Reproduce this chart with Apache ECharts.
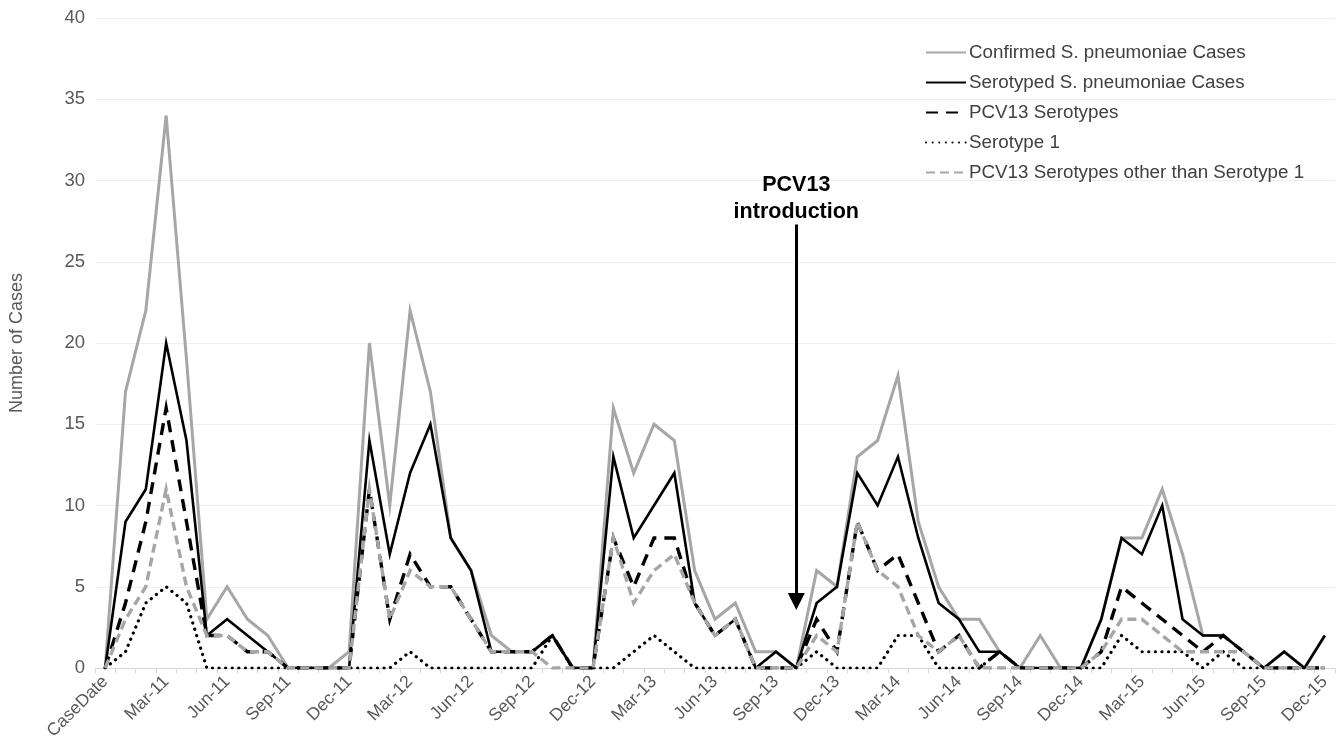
<!DOCTYPE html>
<html>
<head>
<meta charset="utf-8">
<title>S. pneumoniae cases by month</title>
<script src="https://cdn.jsdelivr.net/npm/echarts@6/dist/echarts.min.js"></script>
<style>
  html, body { margin: 0; padding: 0; background: #fff; }
  #chart { width: 1339px; height: 748px; }
</style>
</head>
<body>
<div id="chart"></div>
<script>
// Month labels: a leading "CaseDate" header row, then Jan-11 .. Dec-15
const months = ['Jan', 'Feb', 'Mar', 'Apr', 'May', 'Jun', 'Jul', 'Aug', 'Sep', 'Oct', 'Nov', 'Dec'];
const years = ['11', '12', '13', '14', '15'];
const categories = ['CaseDate'].concat(
  years.flatMap(y => months.map(m => m + '-' + y))
);

// Monthly case counts
const confirmed = [0,
  17, 22, 34, 19, 3, 5, 3, 2, 0, 0, 0, 1,
  20, 10, 22, 17, 8, 6, 2, 1, 1, 2, 0, 0,
  16, 12, 15, 14, 6, 3, 4, 1, 1, 0, 6, 5,
  13, 14, 18, 9, 5, 3, 3, 1, 0, 2, 0, 0,
  3, 8, 8, 11, 7, 2, 2, 1, 0, 1, 0, 2];

const serotyped = [0,
  9, 11, 20, 14, 2, 3, 2, 1, 0, 0, 0, 0,
  14, 7, 12, 15, 8, 6, 1, 1, 1, 2, 0, 0,
  13, 8, 10, 12, 4, 2, 3, 0, 1, 0, 4, 5,
  12, 10, 13, 8, 4, 3, 1, 1, 0, 0, 0, 0,
  3, 8, 7, 10, 3, 2, 2, 1, 0, 1, 0, 2];

const pcv13 = [0,
  4, 9, 16, 9, 2, 2, 1, 1, 0, 0, 0, 0,
  11, 3, 7, 5, 5, 3, 1, 1, 1, 2, 0, 0,
  8, 5, 8, 8, 4, 2, 3, 0, 0, 0, 3, 1,
  9, 6, 7, 4, 1, 2, 0, 1, 0, 0, 0, 0,
  1, 5, 4, 3, 2, 1, 2, 1, 0, 0, 0, 0];

const serotype1 = [0,
  1, 4, 5, 4, 0, 0, 0, 0, 0, 0, 0, 0,
  0, 0, 1, 0, 0, 0, 0, 0, 0, 2, 0, 0,
  0, 1, 2, 1, 0, 0, 0, 0, 0, 0, 1, 0,
  0, 0, 2, 2, 0, 0, 0, 1, 0, 0, 0, 0,
  0, 2, 1, 1, 1, 0, 1, 0, 0, 0, 0, 0];

const pcv13Other = [0,
  3, 5, 11, 5, 2, 2, 1, 1, 0, 0, 0, 0,
  11, 3, 6, 5, 5, 3, 1, 1, 1, 0, 0, 0,
  8, 4, 6, 7, 4, 2, 3, 0, 0, 0, 2, 1,
  9, 6, 5, 2, 1, 2, 0, 0, 0, 0, 0, 0,
  1, 3, 3, 2, 1, 1, 1, 1, 0, 0, 0, 0];

// Y axis ticks
const yMin = 0, yMax = 40, yStep = 5;

// Vaccine introduction marker
const introMonth = 'Oct-13';
const introArrowTop = 27.3;
const introArrowTip = 4.1;

const FONT = '"Liberation Sans", Arial, sans-serif';
const GRAY = '#a6a6a6';

const chart = echarts.init(document.getElementById('chart'), null, { renderer: 'canvas' });

function lineSeries(name, data, color, width, dash, cap) {
  return {
    name: name,
    type: 'line',
    data: data,
    symbol: 'none',
    showSymbol: false,
    smooth: false,
    lineStyle: { color: color, width: width, type: dash || 'solid', cap: cap || 'butt', join: 'miter' },
    itemStyle: { color: color },
    emphasis: { disabled: true },
    z: 2
  };
}

const series = [
  lineSeries('Confirmed S. pneumoniae Cases', confirmed, GRAY, 3),
  lineSeries('Serotyped S. pneumoniae Cases', serotyped, '#000000', 2.6),
  lineSeries('PCV13 Serotypes', pcv13, '#000000', 3.4, [12, 8]),
  lineSeries('Serotype 1', serotype1, '#000000', 3.2, [0.1, 6.5], 'round'),
  lineSeries('PCV13 Serotypes other than Serotype 1', pcv13Other, GRAY, 3.4, [9, 5])
];

series[0].markLine = {
  silent: true,
  animation: false,
  symbol: ['none', 'triangle'],
  symbolSize: 17,
  lineStyle: { color: '#000', width: 3, type: 'solid' },
  label: {
    show: true,
    position: 'start',
    distance: -1,
    formatter: 'PCV13\nintroduction',
    fontFamily: FONT,
    fontWeight: 'bold',
    fontSize: 21.5,
    lineHeight: 27,
    color: '#000'
  },
  data: [[
    { coord: [introMonth, introArrowTop] },
    { coord: [introMonth, introArrowTip] }
  ]]
};

chart.setOption({
  animation: false,
  backgroundColor: '#ffffff',
  textStyle: { fontFamily: FONT },
  grid: { left: 95, right: 4, top: 18, bottom: 80, containLabel: false },
  legend: {
    orient: 'vertical',
    left: 920,
    top: 38,
    itemWidth: 40,
    itemHeight: 14,
    itemGap: 11,
    itemStyle: { opacity: 0 },
    textStyle: { fontFamily: FONT, fontSize: 18.8, color: '#404040', padding: [0, 0, 0, -2] },
    data: series.map(s => s.name)
  },
  xAxis: {
    type: 'category',
    data: categories,
    boundaryGap: true,
    axisLine: { show: true, lineStyle: { color: '#d9d9d9', width: 1 } },
    axisTick: { show: true, interval: 0, length: 5, lineStyle: { color: '#d9d9d9' } },
    axisLabel: {
      interval: 2,
      rotate: 45,
      margin: 11,
      fontFamily: FONT,
      fontSize: 17.5,
      color: '#595959'
    },
    splitLine: { show: false }
  },
  yAxis: {
    type: 'value',
    min: yMin,
    max: yMax,
    interval: yStep,
    name: 'Number of Cases',
    nameLocation: 'middle',
    nameGap: 69,
    nameTextStyle: { fontFamily: FONT, fontSize: 18, color: '#595959' },
    axisLine: { show: false },
    axisTick: { show: false },
    axisLabel: { fontFamily: FONT, fontSize: 18.5, color: '#595959', margin: 10 },
    splitLine: { lineStyle: { color: '#efefef', width: 1 } }
  },
  series: series
});
</script>
</body>
</html>
